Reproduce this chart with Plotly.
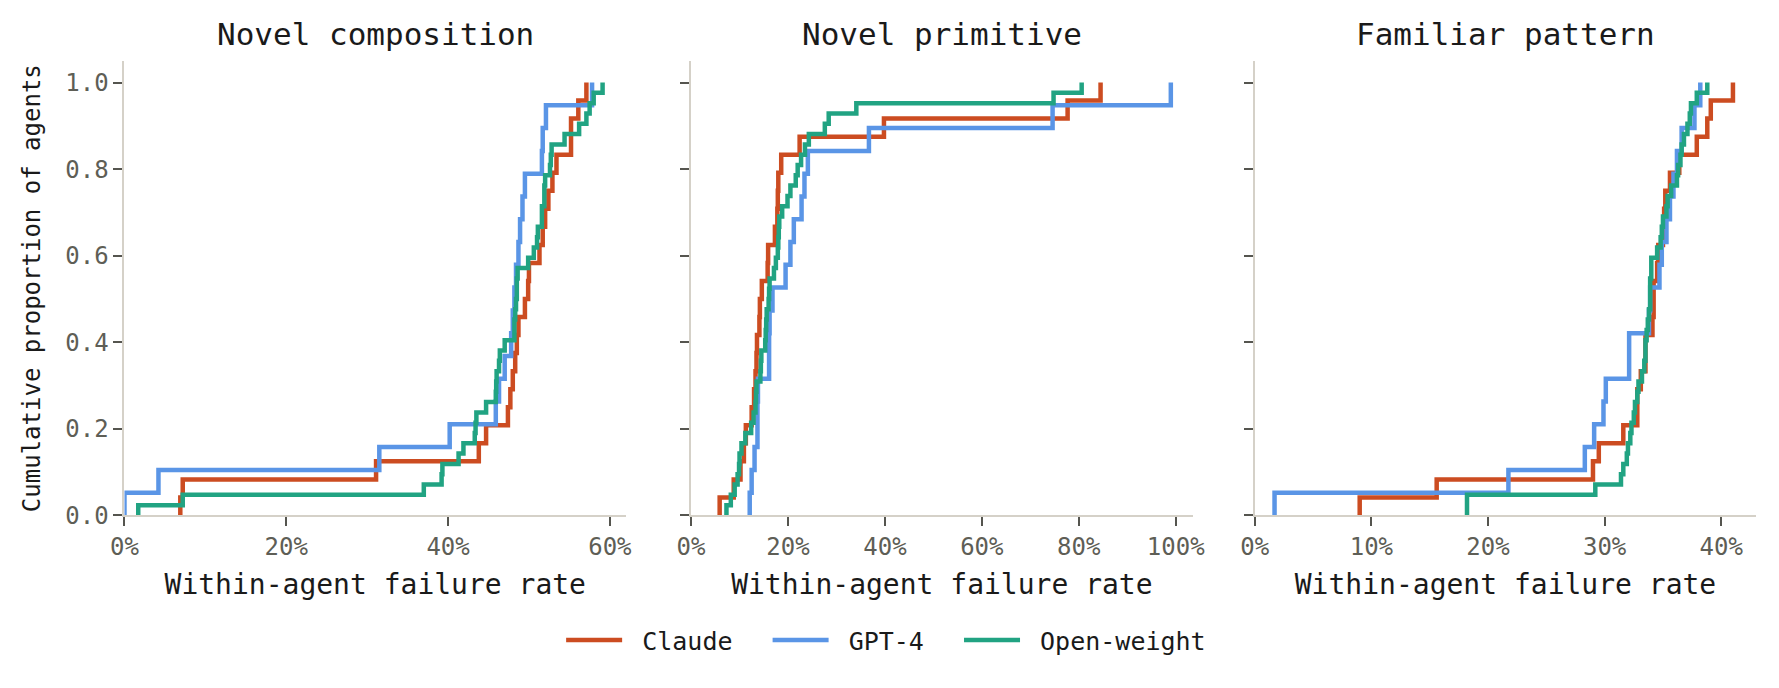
import plotly.graph_objects as go
from plotly.subplots import make_subplots

# Within-agent failure rates (%) per agent
panels = ["Novel composition", "Novel primitive", "Familiar pattern"]
families = ["Claude", "GPT-4", "Open-weight"]
colors = {"Claude": "#CC4C21", "GPT-4": "#5A95E6", "Open-weight": "#21A382"}

comp_claude = [6.9, 7.2, 31.1, 43.8, 44.7, 47.4, 47.7, 48.0, 48.3, 48.5, 48.7, 49.5,
               49.9, 50.0, 51.3, 51.7, 52.0, 52.4, 52.9, 53.4, 55.2, 55.2, 56.1, 57.1]
comp_gpt4 = [0.0, 4.2, 31.5, 40.2, 45.9, 46.3, 47.0, 47.8, 48.0, 48.2, 48.4, 48.7,
             48.9, 49.2, 49.5, 51.6, 51.7, 52.1, 57.8]
comp_open = [1.7, 7.2, 37.0, 39.2, 39.3, 41.3, 41.9, 43.3, 43.4, 43.5, 44.7, 45.9,
             45.95, 46.0, 46.3, 46.4, 47.0, 48.2, 48.2, 48.3, 48.4, 48.5, 48.5, 48.6,
             49.9, 50.6, 51.0, 51.1, 51.6, 51.6, 51.9, 51.9, 52.0, 52.6, 52.7, 52.8,
             54.4, 56.2, 57.1, 57.5, 58.0, 59.1]

prim_claude = [5.9, 8.8, 10.2, 10.9, 11.3, 12.5, 13.0, 13.3, 13.5, 13.6, 14.1, 14.2,
               14.6, 15.8, 15.9, 17.3, 17.8, 17.9, 18.0, 18.6, 22.4, 39.8, 77.7, 84.5]
prim_gpt4 = [12.1, 12.5, 13.1, 13.7, 13.7, 13.8, 16.1, 16.1, 16.2, 16.8, 19.5, 20.5,
             21.2, 22.8, 23.4, 24.1, 36.7, 74.6, 99.0]
prim_open = [7.3, 8.2, 9.0, 9.6, 9.9, 10.0, 10.4, 11.2, 12.4, 12.9, 13.3, 13.4,
             13.5, 14.3, 14.4, 14.5, 15.3, 15.4, 15.5, 15.6, 16.0, 16.1, 16.2, 17.1,
             17.5, 17.9, 18.0, 18.1, 18.2, 18.8, 19.9, 20.5, 21.6, 22.0, 22.7, 23.5,
             24.3, 27.6, 28.4, 34.1, 74.8, 80.6]

fam_claude = [9.0, 15.6, 29.0, 29.5, 31.6, 32.8, 32.8, 33.1, 33.5, 33.5, 34.1, 34.2,
              34.2, 34.5, 34.6, 35.0, 35.1, 35.2, 35.6, 36.4, 37.9, 38.8, 39.1, 41.0]
fam_gpt4 = [1.7, 21.75, 28.3, 29.1, 29.9, 30.1, 32.1, 32.1, 33.8, 33.9, 34.7, 34.9,
            35.3, 35.6, 35.9, 36.2, 36.6, 37.7, 38.2]
fam_open = [18.2, 18.2, 29.2, 31.4, 31.6, 31.9, 32.0, 32.2, 32.3, 32.5, 32.6, 32.8,
            32.9, 33.2, 33.4, 33.5, 33.5, 33.6, 33.7, 33.8, 33.9, 33.9, 33.9, 34.0,
            34.0, 34.5, 34.8, 34.9, 35.0, 35.3, 35.4, 35.7, 36.2, 36.3, 36.5, 36.6,
            36.8, 37.1, 37.3, 37.4, 37.9, 38.8]

data = {
    "Novel composition": {"Claude": comp_claude, "GPT-4": comp_gpt4, "Open-weight": comp_open},
    "Novel primitive": {"Claude": prim_claude, "GPT-4": prim_gpt4, "Open-weight": prim_open},
    "Familiar pattern": {"Claude": fam_claude, "GPT-4": fam_gpt4, "Open-weight": fam_open},
}

x_ranges = [[0, 0.62], [0, 1.035], [0, 0.43]]
x_ticks = [[0, 0.2, 0.4, 0.6], [0, 0.2, 0.4, 0.6, 0.8, 1.0], [0, 0.1, 0.2, 0.3, 0.4]]
y_ticks = [0, 0.2, 0.4, 0.6, 0.8, 1.0]

FONT = "DejaVu Sans Mono"
AXIS_COL = "#D5D1C8"
TICK_COL = "#55554F"
LABEL_COL = "#5E5E56"
NB = "\u00a0"  # non-breaking space, pads the legend entries like the original

fig = make_subplots(rows=1, cols=3, subplot_titles=panels)

for col, panel in enumerate(panels, start=1):
    for fam in families:
        vals = sorted(v / 100 for v in data[panel][fam])
        n = len(vals)
        xs = [vals[0]] + vals
        ys = [0] + [(i + 1) / n for i in range(n)]
        fig.add_trace(go.Scatter(
            x=xs, y=ys, mode="lines", line=dict(color=colors[fam], width=4.5, shape="hv"),
            name=NB + fam + NB * 2, legendgroup=fam, showlegend=(col == 1),
        ), row=1, col=col)

W, H = 1779, 688
x_px = [[104, 613], [679, 1188], [1251, 1760]]
x_domains = [[a / W, b / W] for a, b in x_px]
y_domain = [(H - 518) / H, (H - 54) / H]

for i in range(3):
    fig.update_xaxes(
        domain=x_domains[i], range=x_ranges[i], tickvals=x_ticks[i], tickformat=".0%",
        showgrid=False, zeroline=False, showline=True, linecolor=AXIS_COL, linewidth=2,
        ticks="outside", ticklen=9, tickwidth=2, tickcolor=TICK_COL,
        tickfont=dict(family=FONT, size=24, color=LABEL_COL),
        title=dict(text="Within-agent failure rate", font=dict(family=FONT, size=28, color="#1A1A1A"),
                   standoff=14),
        row=1, col=i + 1,
    )
    fig.update_yaxes(
        domain=y_domain, range=[0, 1.05], tickvals=y_ticks, tickformat=".1f",
        showticklabels=(i == 0),
        showgrid=False, zeroline=False, showline=True, linecolor=AXIS_COL, linewidth=2,
        ticks="outside", ticklen=9, tickwidth=2, tickcolor=TICK_COL,
        tickfont=dict(family=FONT, size=24, color=LABEL_COL),
        row=1, col=i + 1,
    )

fig.update_yaxes(title=dict(text="Cumulative proportion of agents",
                            font=dict(family=FONT, size=24, color="#1A1A1A"), standoff=18),
                 row=1, col=1)

# subplot titles: centre over each panel
for ann, dom in zip(fig.layout.annotations, x_domains):
    ann.update(x=(dom[0] + dom[1]) / 2, y=0.962, yanchor="middle",
               font=dict(family=FONT, size=31, color="#1A1A1A"))

fig.update_layout(
    width=W, height=H,
    margin=dict(l=0, r=0, t=0, b=0),
    paper_bgcolor="white", plot_bgcolor="white",
    font=dict(family=FONT),
    legend=dict(orientation="h", x=0.5015, xanchor="center", y=0.062, yanchor="middle",
                font=dict(family=FONT, size=25, color="#1A1A1A"), itemwidth=56,
                bgcolor="rgba(0,0,0,0)"),
)

fig.write_html("out.html")
